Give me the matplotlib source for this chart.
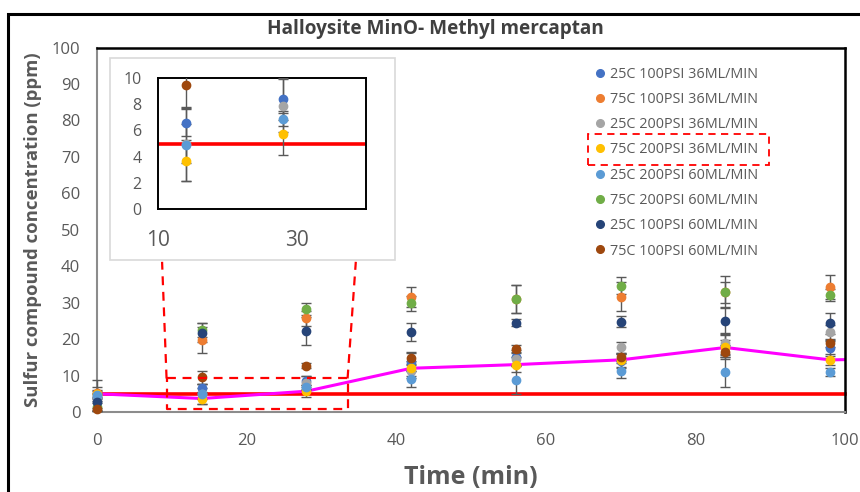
import matplotlib.pyplot as plt
from matplotlib.lines import Line2D
from matplotlib.patches import Rectangle

plt.rcParams['font.family'] = ['Open Sans', 'DejaVu Sans']

# sampling times (min)
times = [0, 14, 28, 42, 56, 70, 84, 98]

labels = ["25C 100PSI 36ML/MIN", "75C 100PSI 36ML/MIN", "25C 200PSI 36ML/MIN",
          "75C 200PSI 36ML/MIN", "25C 200PSI 60ML/MIN", "75C 200PSI 60ML/MIN",
          "25C 100PSI 60ML/MIN", "75C 100PSI 60ML/MIN"]
colors = ["#4472C4", "#ED7D31", "#A5A5A5", "#FFC000",
          "#5B9BD5", "#70AD47", "#264478", "#9E480E"]

# concentrations (ppm) and error bars, one per series
c25_100_36 = [4.0, 6.6, 8.4, 13.8, 15.0, 14.0, 18.0, 17.5]
c75_100_36 = [5.3, 19.8, 25.7, 31.5, 31.0, 31.6, 32.8, 34.2]
c25_200_36 = [4.5, 5.0, 7.9, 11.3, 14.5, 17.7, 18.8, 21.9]
c75_200_36 = [5.0, 3.7, 5.7, 12.0, 13.0, 14.3, 17.7, 14.3]
c25_200_60 = [4.7, 4.9, 6.9, 9.0, 8.8, 11.3, 11.0, 11.0]
c75_200_60 = [1.5, 22.5, 28.3, 29.8, 31.0, 34.7, 33.0, 32.1]
c25_100_60 = [2.8, 21.8, 22.2, 22.0, 24.5, 24.8, 25.0, 24.3]
c75_100_60 = [0.7, 9.5, 12.7, 14.7, 17.3, 15.0, 16.5, 18.8]

e25_100_36 = [1.0, 1.0, 1.6, 2.5, 2.0, 2.0, 3.0, 2.0]
e75_100_36 = [1.5, 3.5, 2.0, 2.8, 3.8, 4.0, 3.0, 3.3]
e25_200_36 = [4.2, 1.5, 2.0, 2.0, 2.0, 1.5, 3.0, 2.0]
e75_200_36 = [1.0, 1.6, 1.6, 2.0, 2.0, 2.0, 2.0, 1.5]
e25_200_60 = [1.0, 2.8, 0.6, 2.2, 3.8, 2.1, 4.2, 1.0]
e75_200_60 = [1.0, 2.0, 1.7, 2.0, 3.8, 2.3, 4.4, 1.6]
e25_100_60 = [2.5, 2.7, 3.8, 2.5, 1.0, 1.6, 3.7, 2.9]
e75_100_60 = [0.5, 1.7, 0.7, 1.8, 1.0, 1.0, 2.0, 1.0]

# magenta trend line drawn through the 75C 200PSI 36ML/MIN series (runs off the right edge)
trend_times = times + [112]
trend_vals = c75_200_36 + [14.8]

limit_x = [0, 100]
limit_y = [5, 5]

series = [c25_100_36, c75_100_36, c25_200_36, c75_200_36,
          c25_200_60, c75_200_60, c25_100_60, c75_100_60]
errors = [e25_100_36, e75_100_36, e25_200_36, e75_200_36,
          e25_200_60, e75_200_60, e25_100_60, e75_100_60]

GREY = "#595959"


def draw_series(ax, clip, ms, trend):
	ax.plot(limit_x, limit_y, color="#FF0000", lw=2.6, zorder=1, clip_on=clip)
	if trend:
		ax.plot(trend_times, trend_vals, color="#FF00FF", lw=2.2, zorder=2)
	for vals, err, col in zip(series, errors, colors):
		ebar = ax.errorbar(times, vals, yerr=err, fmt="o", color=col, ms=ms,
		                   ecolor=GREY, elinewidth=1, capsize=3.3, capthick=1, zorder=3)
		arts = [ebar.lines[0]] + list(ebar.lines[1]) + list(ebar.lines[2])
		for art in arts:
			art.set_clip_on(clip)


def main():
	fig = plt.figure(figsize=(8.6, 4.92), dpi=100)
	W, H = 860, 492

	ax = fig.add_axes([97 / W, 1 - 412 / H, 748 / W, 364.5 / H])
	draw_series(ax, False, 6, True)
	ax.set_xlim(0, 100)
	ax.set_ylim(0, 100)
	ax.set_xticks(range(0, 101, 20))
	ax.set_yticks(range(0, 101, 10))
	ax.tick_params(axis="both", length=0, colors=GREY, labelsize=12)
	ax.tick_params(axis="x", pad=15)
	ax.tick_params(axis="y", pad=12)
	for s in ["left", "bottom"]:
		ax.spines[s].set_color("#8c8c8c")
		ax.spines[s].set_linewidth(1.5)
	for s in ["top", "right"]:
		ax.spines[s].set_color("black")
		ax.spines[s].set_linewidth(1.8)

	ax.set_xlabel("Time (min)", fontsize=18, fontweight="bold", color=GREY, va="center")
	ax.xaxis.set_label_coords(0.5, -0.181)
	ax.set_ylabel("Sulfur compound concentration (ppm)", fontsize=13.3, fontweight="bold",
	              color=GREY, va="center")
	ax.yaxis.set_label_coords(-0.086, 0.5)

	fig.text(435 / W, 1 - 29 / H, "Halloysite MinO- Methyl mercaptan", ha="center",
	         va="center", fontsize=13.7, fontweight="bold", color="#404040")

	# zoom box and connector lines
	red = dict(color="#FF0000", ls=(0, (4, 3)), lw=1.6, clip_on=False, zorder=4)
	ax.plot([9.3, 33.5, 33.5, 9.3, 9.3], [9.2, 9.2, 0.7, 0.7, 9.2], **red)
	ax.plot([9.3, 8.7], [9.2, 41.2], **red)
	ax.plot([33.5, 34.6], [9.2, 41.2], **red)

	# inset frame + axes
	fig.patches.append(Rectangle((110 / W, 1 - 260 / H), 285 / W, 202 / H,
	                             transform=fig.transFigure, facecolor="white",
	                             edgecolor="#d9d9d9", lw=1.2, zorder=5))
	ins = fig.add_axes([158 / W, 1 - 209 / H, 208 / W, 131 / H], zorder=6)
	draw_series(ins, True, 6, False)
	ins.set_xlim(10, 40)
	ins.set_ylim(0, 10)
	ins.set_xticks([10, 30])
	ins.set_yticks(range(0, 11, 2))
	ins.tick_params(axis="both", length=0, colors=GREY)
	ins.tick_params(axis="x", labelsize=15, pad=15)
	ins.tick_params(axis="y", labelsize=11.5, pad=12)
	for s in ins.spines.values():
		s.set_color("black")
		s.set_linewidth(1.4)

	# legend
	handles = [Line2D([], [], marker="o", ls="none", color=c, ms=5.5) for c in colors]
	ax.legend(handles, labels, loc="upper left", bbox_to_anchor=(588 / W, 1 - 59.5 / H),
	          bbox_transform=fig.transFigure, frameon=False, fontsize=10.4,
	          labelcolor=GREY, handlelength=0.6, handletextpad=0.45, labelspacing=0.71,
	          borderpad=0)
	fig.patches.append(Rectangle((588 / W, 1 - 165 / H), 181 / W, 31 / H,
	                             transform=fig.transFigure, fill=False,
	                             edgecolor="#FF0000", ls=(0, (4, 3)), lw=1.3, zorder=7))

	# outer chart border
	fig.patches.append(Rectangle((8 / W, -0.1), 1.2, 1 - 14 / H + 0.1,
	                             transform=fig.transFigure, fill=False,
	                             edgecolor="black", lw=2.2, zorder=8))

	plt.savefig("out.png", dpi=100)


if __name__ == '__main__':
	main()
